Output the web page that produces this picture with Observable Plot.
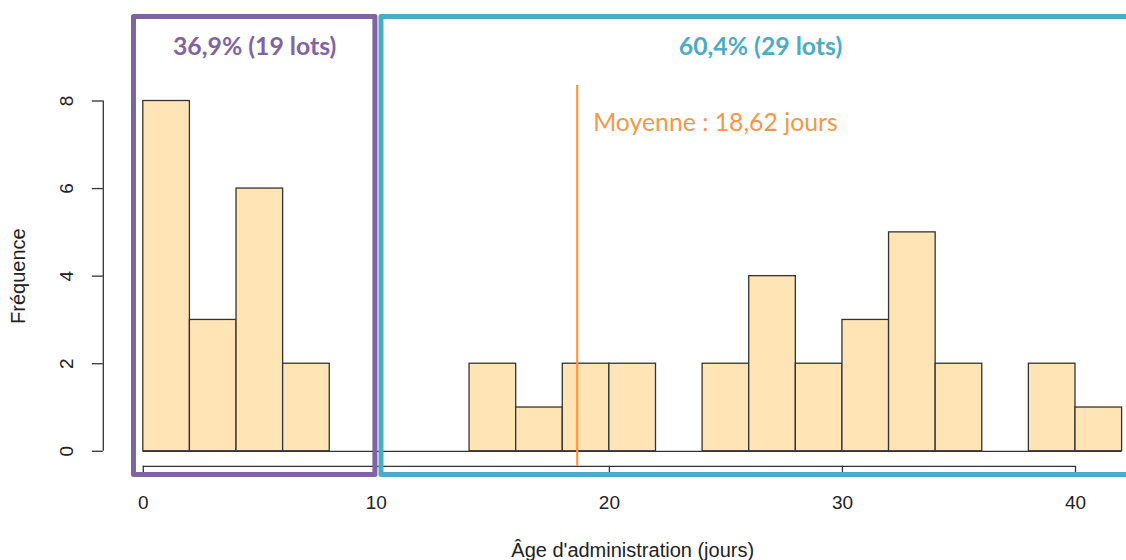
<!DOCTYPE html>
<html><head><meta charset="utf-8">
<script src="https://cdn.jsdelivr.net/npm/d3@7"></script>
<script src="https://cdn.jsdelivr.net/npm/@observablehq/plot@0.6"></script>
<style>body{margin:0;background:#fff}</style>
</head><body><div id="chart"></div>
<script>
// Histogram bins (width 2 days)
const binStarts = [0,2,4,6,8,10,12,14,16,18,20,22,24,26,28,30,32,34,36,38,40];
const binWidth = 2;
const counts    = [8,3,6,2,0,0,0,2,1,2,2,0,2,4,2,3,5,2,0,2,1];
const xTicks = [0,10,20,30,40];
const yTicks = [0,2,4,6,8];
const meanAge = 18.62;
const meanLabel = "Moyenne : 18,62 jours";
const groupLabels = ["36,9% (19 lots)", "60,4% (29 lots)"];
const groupX1 = [-0.40, 10.22];
const groupX2 = [9.96, 42.75];
const groupColors = ["#8064A2", "#4BACC6"];
const xLabel = "Âge d'administration (jours)";
const yLabel = "Fréquence";

const bins = binStarts.map((s, i) => ({x0: s, x1: s + binWidth, count: counts[i]}));
const groups = groupLabels.map((label, i) => ({label, x1: groupX1[i], x2: groupX2[i], color: groupColors[i]}));

const boxY1 = -0.541, boxY2 = 9.918, labelY = 9.24;

const chart = Plot.plot({
  width: 1126, height: 560,
  marginLeft: 142.8, marginRight: 4.4, marginTop: 100.5, marginBottom: 109.2,
  x: {domain: [0, 42]},
  y: {domain: [0, 8]},
  style: {fontFamily: "'Liberation Sans', Arial, sans-serif", fontSize: "19px", background: "white", color: "#222"},
  marks: [
    Plot.rectY(bins, {x1: "x0", x2: "x1", y: "count", fill: "#FFE4B5", stroke: "#333", strokeWidth: 1.3}),
    Plot.ruleY([0], {x1: binStarts[0], x2: binStarts[binStarts.length-1] + binWidth, stroke: "#333", strokeWidth: 1.3}),
    // x axis (R style, offset below)
    Plot.ruleY([0], {x1: xTicks[0], x2: xTicks[xTicks.length-1], dy: 15, stroke: "#333", strokeWidth: 1.3}),
    Plot.axisX(xTicks, {anchor: "bottom", label: null, tickSize: 7, tickPadding: 22, dy: 15, stroke: "#333", fill: "#222", fontSize: 19, strokeWidth: 1.3}),
    // y axis
    Plot.ruleX([0], {y1: yTicks[0], y2: yTicks[yTicks.length-1], dx: -40, stroke: "#333", strokeWidth: 1.3}),
    Plot.axisY(yTicks, {anchor: "left", label: null, tickSize: 11, dx: -40, tickFormat: () => "", stroke: "#333", strokeWidth: 1.3}),
    Plot.text(yTicks, {y: d => d, frameAnchor: "left", dx: -76, rotate: -90, text: d => String(d), textAnchor: "middle", lineAnchor: "middle", fill: "#222", fontSize: 19}),
    Plot.text([xLabel], {frameAnchor: "bottom", dy: 99, lineAnchor: "middle", fill: "#222", fontSize: 20}),
    Plot.text([yLabel], {frameAnchor: "left", dx: -125, rotate: -90, textAnchor: "middle", lineAnchor: "middle", fill: "#222", fontSize: 20}),
    // mean line
    Plot.ruleX([meanAge], {y1: -0.3425, y2: 8.353, stroke: "#F79646", strokeWidth: 2.2}),
    Plot.text([meanLabel], {x: meanAge, y: 7.49, dx: 16, textAnchor: "start", lineAnchor: "middle", fill: "#F79646", fontSize: 24.8, fontFamily: "Lato, 'Open Sans', sans-serif"}),
    // group boxes
    Plot.rect(groups, {x1: "x1", x2: "x2", y1: boxY1, y2: boxY2, fill: "none", stroke: "color", strokeWidth: 5, strokeLinejoin: "round"}),
    Plot.text(groups, {x: d => (d.x1 + d.x2) / 2, y: labelY, text: "label", fill: "color", fontSize: 24.8, fontWeight: "bold", lineAnchor: "middle", fontFamily: "Lato, 'Open Sans', sans-serif"})
  ]
});
document.getElementById("chart").appendChild(chart);
</script></body></html>
